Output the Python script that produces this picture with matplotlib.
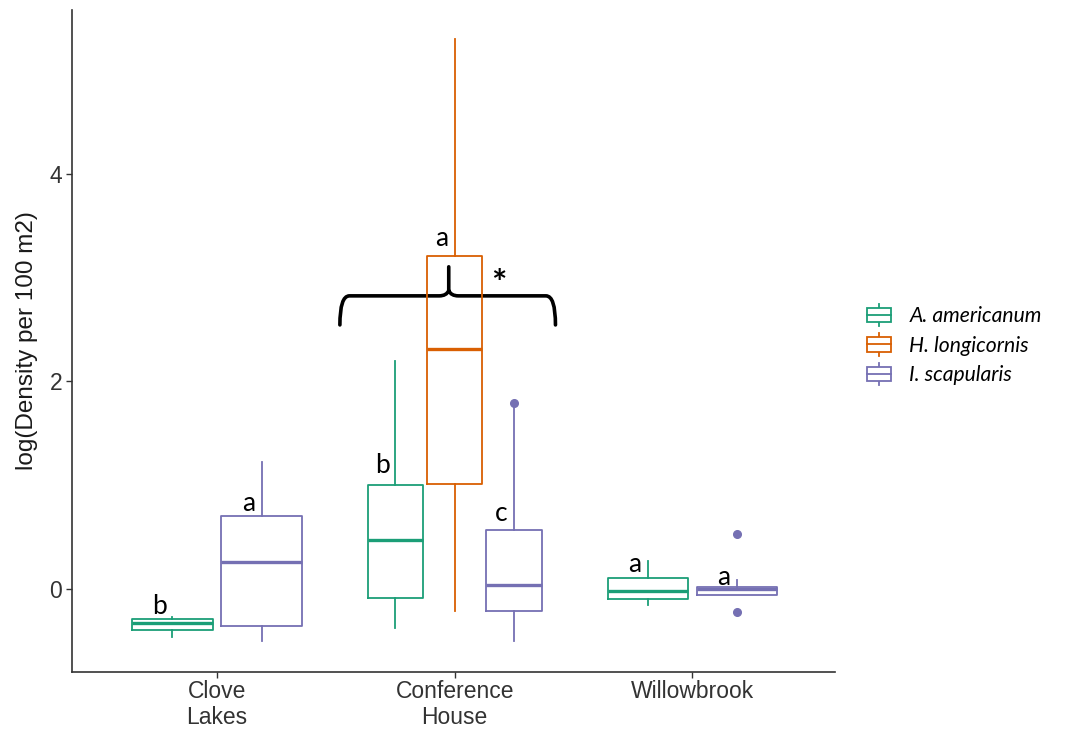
import matplotlib
matplotlib.use("Agg")
import matplotlib.pyplot as plt
from matplotlib.patches import Rectangle, PathPatch
from matplotlib.path import Path
from matplotlib.lines import Line2D
from matplotlib.legend_handler import HandlerBase

# ---------------- data ----------------
sites = ["Clove\nLakes", "Conference\nHouse", "Willowbrook"]
species = ["A. americanum", "H. longicornis", "I. scapularis"]
colors = ["#1b9e77", "#d95f02", "#7570b3"]

# per species: values for each site (None = species absent at site)
q1 = {
    "A. americanum": [-0.40, -0.09, -0.10],
    "H. longicornis": [None, 1.01, None],
    "I. scapularis": [-0.36, -0.21, -0.06],
}
med = {
    "A. americanum": [-0.33, 0.47, -0.02],
    "H. longicornis": [None, 2.31, None],
    "I. scapularis": [0.26, 0.04, 0.00],
}
q3 = {
    "A. americanum": [-0.29, 1.00, 0.11],
    "H. longicornis": [None, 3.21, None],
    "I. scapularis": [0.70, 0.57, 0.02],
}
whislo = {
    "A. americanum": [-0.46, -0.38, -0.15],
    "H. longicornis": [None, -0.21, None],
    "I. scapularis": [-0.50, -0.50, -0.06],
}
whishi = {
    "A. americanum": [-0.27, 2.20, 0.27],
    "H. longicornis": [None, 5.30, None],
    "I. scapularis": [1.22, 1.77, 0.09],
}
fliers = {
    "A. americanum": [[], [], []],
    "H. longicornis": [[], [], []],
    "I. scapularis": [[], [1.79], [0.53, -0.22]],
}

# significance letters: (site index, species, letter, y)
letters = [
    (0, "A. americanum", "b", -0.17),
    (0, "I. scapularis", "a", 0.82),
    (1, "A. americanum", "b", 1.19),
    (1, "H. longicornis", "a", 3.38),
    (1, "I. scapularis", "c", 0.73),
    (2, "A. americanum", "a", 0.24),
    (2, "I. scapularis", "a", 0.11),
]

# ---------------- figure ----------------
fig = plt.figure(figsize=(10.66, 7.30), dpi=100)
ax = fig.add_axes([72 / 1066, 1 - 672 / 730, (835 - 72) / 1066, (672 - 10) / 730])

positions_map = {}
for i in range(len(sites)):
    present = [s for s in species if med[s][i] is not None]
    n = len(present)
    slot = 0.75 / n if n > 0 else 0.75
    width = slot * 0.9 if n == 2 else slot * 0.93
    for k, s in enumerate(present):
        pos = (i + 1) - 0.75 / 2 + slot * (k + 0.5)
        positions_map[(i, s)] = (pos, width)

for s, c in zip(species, colors):
    stats, pos, wid = [], [], []
    for i in range(len(sites)):
        if med[s][i] is None:
            continue
        stats.append(dict(med=med[s][i], q1=q1[s][i], q3=q3[s][i],
                          whislo=whislo[s][i], whishi=whishi[s][i],
                          fliers=fliers[s][i]))
        p, w = positions_map[(i, s)]
        pos.append(p)
        wid.append(w)
    ax.bxp(stats, positions=pos, widths=wid, showcaps=False, patch_artist=False,
           boxprops=dict(color=c, linewidth=1.3),
           whiskerprops=dict(color=c, linewidth=1.3),
           medianprops=dict(color=c, linewidth=2.4),
           flierprops=dict(marker="o", markerfacecolor=c, markeredgecolor=c,
                           markersize=5.5, linestyle="none"),
           manage_ticks=False)

# letters
for i, s, t, y in letters:
    p, w = positions_map[(i, s)]
    ax.text(p - 0.055, y, t, ha="center", va="center", fontsize=19,
            family="Lato", color="black")

# curly bracket and asterisk
xl, xr, xm = 1.517, 2.424, 1.975
yh, yt, yp = 2.825, 2.545, 3.105
r = 0.05
verts = [
    (xl, yt), (xl, yh), (xl + r * 0.8, yh),
    (xm - 0.04, yh),
    (xm - 0.01, yh), (xm, yh + 0.05),
    (xm, yp),
    (xm, yh + 0.05), (xm + 0.01, yh),
    (xm + 0.04, yh),
    (xr - r * 0.8, yh),
    (xr, yh), (xr, yt),
]
codes = [Path.MOVETO, Path.CURVE3, Path.CURVE3,
         Path.LINETO,
         Path.CURVE3, Path.CURVE3,
         Path.LINETO,
         Path.MOVETO, Path.CURVE3, Path.CURVE3,
         Path.LINETO,
         Path.CURVE3, Path.CURVE3]
ax.add_patch(PathPatch(Path(verts, codes), facecolor="none", edgecolor="black",
                       linewidth=2.6, capstyle="round", joinstyle="round"))
ax.text(2.185, 2.93, "*", ha="center", va="center", fontsize=26, family="Lato",
        fontweight="bold")

# axes styling
ax.set_xlim(0.39, 3.6)
ax.set_ylim(-0.80, 5.58)
ax.set_xticks([1, 2, 3])
ax.set_xticklabels(sites, fontsize=16.5, family="Liberation Sans", color="#333333",
                   linespacing=1.15)
ax.set_yticks([0, 2, 4])
ax.set_yticklabels(["0", "2", "4"], fontsize=16.5, family="Liberation Sans", color="#333333")
ax.set_ylabel("log(Density per 100 m2)", fontsize=17.5, family="Liberation Sans",
              color="#1a1a1a", labelpad=8)
for side in ["top", "right"]:
    ax.spines[side].set_visible(False)
for side in ["left", "bottom"]:
    ax.spines[side].set_color("#333333")
    ax.spines[side].set_linewidth(1.2)
ax.tick_params(axis="both", colors="#333333", length=4, width=1.0, pad=3)
ax.tick_params(axis="x", pad=2)


# legend with boxplot glyphs
class BoxHandler(HandlerBase):
    def create_artists(self, legend, orig_handle, xdescent, ydescent, width,
                       height, fontsize, trans):
        c = orig_handle.get_color()
        x0 = -xdescent
        y0 = -ydescent
        bx = Rectangle((x0, y0 + height * 0.15), width, height * 0.7,
                       facecolor="white", edgecolor=c, linewidth=1.3, transform=trans)
        ym = y0 + height * 0.5
        m = Line2D([x0, x0 + width], [ym, ym], color=c, linewidth=1.3, transform=trans)
        w1 = Line2D([x0 + width / 2] * 2, [y0 - height * 0.05, y0 + height * 0.15],
                    color=c, linewidth=1.3, transform=trans)
        w2 = Line2D([x0 + width / 2] * 2, [y0 + height * 0.85, y0 + height * 1.05],
                    color=c, linewidth=1.3, transform=trans)
        return [w1, w2, bx, m]


handles = [Line2D([], [], color=c) for c in colors]
leg = fig.legend(handles, species, handler_map={Line2D: BoxHandler()},
                 loc="center left", bbox_to_anchor=(848 / 1066, 1 - 345 / 730),
                 frameon=False, handlelength=1.15, handleheight=1.1,
                 handletextpad=0.85, labelspacing=0.4,
                 prop=dict(family="Lato", style="italic", size=15.2))

fig.savefig("out.png", dpi=100, facecolor="white")
